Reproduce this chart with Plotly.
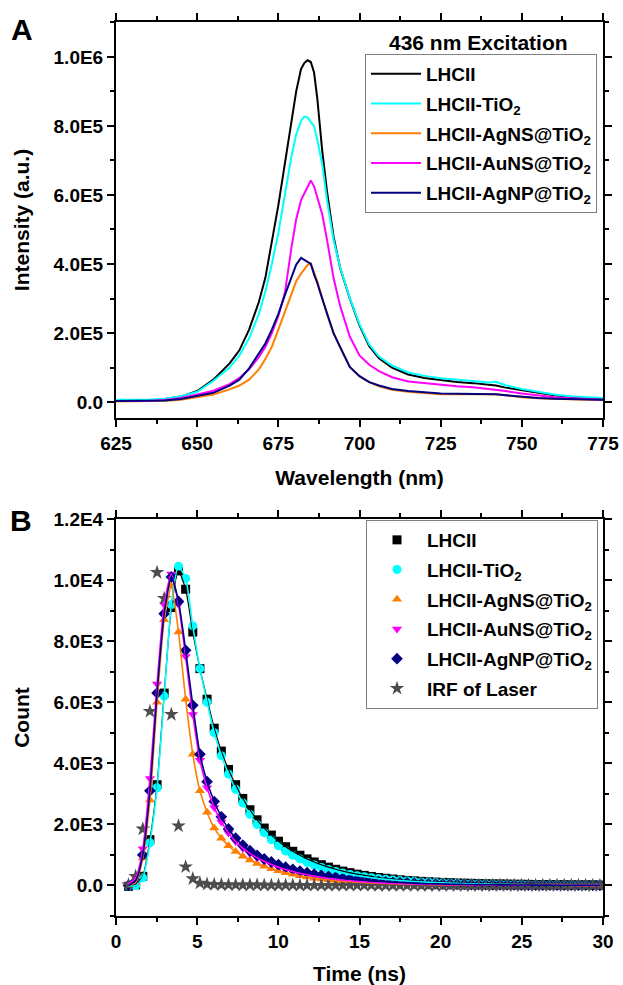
import plotly.graph_objects as go

# ---------------- Panel A: steady-state fluorescence spectra ----------------
WAVELENGTH = [625, 630, 635, 640, 645, 650, 655, 660,
              663, 666, 669, 671, 673, 675, 677, 679,
              680.5, 682, 683, 684, 685, 686, 687, 688.5,
              690, 692, 694, 697, 700, 703, 706, 710,
              715, 720, 725, 730, 735, 740, 742, 745,
              750, 755, 760, 765, 770, 775]

SPEC_LHCII = [4000, 4000, 5000, 9000, 16000, 32000, 65000, 112000,
              150000, 210000, 290000, 360000, 460000, 570000, 690000, 810000,
              900000, 965000, 982000, 990000, 985000, 955000, 880000, 730000,
              610000, 480000, 390000, 300000, 222000, 162000, 127000, 100000,
              80000, 70000, 63000, 58000, 55000, 50000, 48000, 42000,
              34000, 26000, 20000, 15000, 12000, 10000]

SPEC_TIO2 = [7000, 6000, 7000, 10000, 17000, 30000, 62000, 100000,
             135000, 185000, 255000, 320000, 400000, 490000, 600000, 710000,
             775000, 815000, 827000, 825000, 812000, 800000, 760000, 690000,
             585000, 470000, 392000, 302000, 226000, 167000, 132000, 106000,
             86000, 76000, 69000, 65000, 61000, 57000, 59000, 49000,
             38000, 29000, 22000, 17000, 14000, 12000]

SPEC_AGNS = [2000, 2000, 2000, 4000, 7000, 14000, 22000, 37000,
             48000, 65000, 95000, 125000, 160000, 210000, 260000, 310000,
             350000, 372000, 385000, 397000, 402000, 375000, 350000, 302000,
             255000, 200000, 160000, 102000, 75000, 58000, 46000, 36000,
             30000, 26000, 23000, 23000, 23000, 24000, 23000, 20000,
             14000, 11000, 9000, 8000, 7000, 6000]

SPEC_AUNS = [3000, 3000, 3000, 6000, 12000, 22000, 33000, 52000,
             70000, 95000, 130000, 160000, 200000, 250000, 315000, 445000,
             530000, 585000, 605000, 625000, 642000, 625000, 590000, 545000,
             470000, 360000, 280000, 190000, 135000, 108000, 90000, 72000,
             60000, 55000, 50000, 46000, 43000, 38000, 36000, 32000,
             25000, 19000, 14000, 11000, 9000, 7000]

SPEC_AGNP = [3000, 3000, 3000, 5000, 9000, 18000, 27000, 48000,
             65000, 98000, 140000, 170000, 210000, 255000, 310000, 360000,
             398000, 418000, 412000, 405000, 400000, 370000, 345000, 300000,
             255000, 200000, 160000, 102000, 75000, 58000, 48000, 38000,
             32000, 28000, 25000, 24000, 24000, 24000, 23000, 20000,
             15000, 12000, 10000, 9000, 8000, 7000]

# ---------------- Panel B: time-resolved decays ----------------
TIME_NS = [0.77, 1.21, 1.65, 2.09, 2.53, 2.97, 3.41, 3.85, 4.29, 4.73,
           5.17, 5.61, 6.05, 6.49, 6.93, 7.37, 7.81, 8.25, 8.69, 9.13,
           9.57, 10.01, 10.45, 10.89, 11.33, 11.77, 12.21, 12.65, 13.09, 13.53,
           13.97, 14.41, 14.85, 15.29, 15.73, 16.17, 16.61, 17.05, 17.49, 17.93,
           18.37, 18.81, 19.25, 19.69, 20.13, 20.57, 21.01, 21.45, 21.89, 22.33,
           22.77, 23.21, 23.65, 24.09, 24.53, 24.97, 25.41, 25.85, 26.29, 26.73,
           27.17, 27.61, 28.05, 28.49, 28.93, 29.37, 29.81]

DECAY_LHCII = [-30, 20, 300, 1500, 3300, 6300, 9100, 10300, 9700, 8300,
               7100, 6100, 5150, 4400, 3800, 3300, 2850, 2480, 2150, 1880,
               1650, 1450, 1270, 1120, 990, 870, 770, 680, 600, 530,
               470, 420, 370, 330, 295, 260, 235, 210, 185, 165,
               150, 135, 120, 110, 100, 90, 80, 75, 70, 60,
               55, 50, 50, 45, 40, 40, 35, 30, 30, 30,
               25, 25, 20, 20, 20, 20, 15]

DECAY_TIO2 = [-20, 0, 250, 1400, 3200, 6200, 9200, 10450, 10050, 8500,
              7100, 6000, 5000, 4250, 3650, 3150, 2700, 2330, 2000, 1730,
              1500, 1300, 1130, 990, 870, 760, 670, 590, 520, 460,
              410, 360, 320, 285, 255, 225, 200, 180, 160, 145,
              130, 115, 105, 95, 85, 75, 70, 60, 55, 50,
              45, 40, 40, 35, 30, 30, 25, 25, 20, 20,
              20, 15, 15, 15, 10, 10, 10]

DECAY_AGNS = [0, 100, 900, 2800, 6000, 8700, 9800, 8300, 6100, 4300,
              3100, 2400, 1880, 1550, 1300, 1110, 960, 830, 720, 630,
              550, 480, 420, 370, 320, 280, 240, 210, 185, 160,
              140, 125, 110, 95, 85, 75, 65, 58, 50, 45,
              40, 35, 30, 28, 25, 22, 20, 18, 15, 15,
              12, 10, 10, 10, 8, 8, 5, 5, 5, 5,
              5, 5, 0, 0, 0, 0, 0]

DECAY_AUNS = [50, 250, 1200, 3500, 6600, 9200, 10200, 9200, 7500, 5600,
              4100, 3200, 2550, 2080, 1720, 1440, 1220, 1050, 910, 790,
              690, 600, 525, 460, 400, 350, 305, 265, 230, 200,
              175, 155, 135, 120, 105, 92, 80, 70, 62, 55,
              48, 42, 38, 33, 30, 27, 24, 21, 19, 17,
              15, 13, 12, 11, 10, 9, 8, 7, 6, 6,
              5, 5, 5, 4, 4, 4, 3]

DECAY_AGNP = [0, 150, 1000, 3100, 6300, 8900, 10100, 9300, 7700, 5900,
              4300, 3400, 2750, 2250, 1850, 1550, 1320, 1140, 990, 870,
              770, 680, 600, 530, 470, 420, 375, 335, 300, 270,
              240, 215, 190, 170, 150, 135, 120, 105, 95, 85,
              75, 65, 58, 52, 46, 41, 37, 33, 30, 27,
              24, 22, 20, 18, 16, 14, 13, 12, 11, 10,
              9, 8, 8, 7, 7, 6, 6]

IRF = [20, 300, 1850, 5700, 10250, 9400, 5600, 1950, 610, 220,
       80, 40, 30, 25, 20, 20, 15, 15, 15, 10,
       10, 10, 10, 10, 5, 5, 5, 5, 5, 5,
       5, 5, 5, 5, 5, 0, 0, 0, 0, 0,
       0, 0, 0, 0, 0, 0, 0, 0, 0, 0,
       0, 0, 0, 0, 0, 0, 0, 0, 0, 0,
       0, 0, 0, 0, 0, 0, 0]

# ---------------- names, colours, ticks ----------------
NAMES = ["LHCII", "LHCII-TiO<sub>2</sub>", "LHCII-AgNS@TiO<sub>2</sub>",
         "LHCII-AuNS@TiO<sub>2</sub>", "LHCII-AgNP@TiO<sub>2</sub>"]
COLORS = ["#000000", "#00FFFF", "#FF7F00", "#FF00FF", "#000080"]
SYMBOLS = ["square", "circle", "triangle-up", "triangle-down", "diamond"]
IRF_NAME = "IRF of Laser"
IRF_COLOR = "#4D4D4D"

WL_TICKS = [625, 650, 675, 700, 725, 750, 775]
INT_TICKS = [0, 200000, 400000, 600000, 800000, 1000000]
INT_LABELS = ["0.0", "2.0E5", "4.0E5", "6.0E5", "8.0E5", "1.0E6"]
T_TICKS = [0, 5, 10, 15, 20, 25, 30]
CNT_TICKS = [0, 2000, 4000, 6000, 8000, 10000, 12000]
CNT_LABELS = ["0.0", "2.0E3", "4.0E3", "6.0E3", "8.0E3", "1.0E4", "1.2E4"]

FONT = "Liberation Sans"
W, H = 623, 985

fig = go.Figure()

spectra = [SPEC_LHCII, SPEC_TIO2, SPEC_AGNS, SPEC_AUNS, SPEC_AGNP]
for i, (name, col, ys) in enumerate(zip(NAMES, COLORS, spectra)):
    fig.add_trace(go.Scatter(x=WAVELENGTH, y=ys, mode="lines", name=name,
                             line=dict(color=col, width=2), legendgroup=f"a{i}",
                             xaxis="x", yaxis="y", legend="legend"))

decays = [DECAY_LHCII, DECAY_TIO2, DECAY_AGNS, DECAY_AUNS, DECAY_AGNP]
for i, (name, col, sym, ys) in enumerate(zip(NAMES, COLORS, SYMBOLS, decays)):
    fig.add_trace(go.Scatter(x=TIME_NS, y=ys, mode="markers", name=name,
                             marker=dict(color=col, symbol=sym, size=9), legendgroup=f"b{i}",
                             xaxis="x2", yaxis="y2", legend="legend2"))
fig.add_trace(go.Scatter(x=TIME_NS, y=IRF, mode="markers", name=IRF_NAME,
                         marker=dict(color=IRF_COLOR, symbol="star", size=11), legendgroup="b5",
                         xaxis="x2", yaxis="y2", legend="legend2"))
# fitted curves
for name, col, ys in zip(NAMES, COLORS, decays):
    fig.add_trace(go.Scatter(x=TIME_NS, y=ys, mode="lines", showlegend=False,
                             line=dict(color=col, width=1.6 if col != "#000000" else 1.2,
                                       shape="spline", smoothing=0.6),
                             xaxis="x2", yaxis="y2", hoverinfo="skip"))

axis_common = dict(showline=True, linewidth=2, linecolor="black", mirror="ticks",
                   ticks="outside", ticklen=7, tickwidth=2, tickcolor="black",
                   showgrid=False, zeroline=False, automargin=False,
                   tickfont=dict(family=FONT, size=19, color="black", weight="bold"))
title_font = dict(family=FONT, size=21, color="black", weight="bold")

X0, X1 = 116 / W, 603 / W
YA = [1 - 418 / H, 1 - 22 / H]
YB = [1 - 916 / H, 1 - 519 / H]

legend_common = dict(xanchor="right", yanchor="top",
                     bordercolor="#808080", borderwidth=1, bgcolor="white",
                     font=dict(family=FONT, size=19, color="black", weight="bold"),
                     itemwidth=50, tracegroupgap=2)

fig.update_layout(
    width=W, height=H, margin=dict(l=0, r=0, t=0, b=0),
    paper_bgcolor="white", plot_bgcolor="white",
    font=dict(family=FONT, size=19, color="black", weight="bold"),
    xaxis=dict(domain=[X0, X1], anchor="y", range=[625, 775],
               tickmode="array", tickvals=WL_TICKS, ticktext=[str(v) for v in WL_TICKS],
               minor=dict(ticks="outside", ticklen=4, tickwidth=2, tickcolor="black",
                          tick0=637.5, dtick=25),
               title=dict(text="Wavelength (nm)", font=title_font, standoff=18),
               **axis_common),
    yaxis=dict(domain=YA, anchor="x", range=[-46000, 1101000],
               tickmode="array", tickvals=INT_TICKS, ticktext=INT_LABELS,
               minor=dict(ticks="outside", ticklen=4, tickwidth=2, tickcolor="black",
                          tick0=100000, dtick=200000),
               title=dict(text="Intensity (a.u.)", font=title_font, standoff=18),
               **axis_common),
    xaxis2=dict(domain=[X0, X1], anchor="y2", range=[0, 30],
                tickmode="array", tickvals=T_TICKS, ticktext=[str(v) for v in T_TICKS],
                minor=dict(ticks="outside", ticklen=4, tickwidth=2, tickcolor="black",
                           tick0=2.5, dtick=5),
                title=dict(text="Time (ns)", font=title_font, standoff=18),
                **axis_common),
    yaxis2=dict(domain=YB, anchor="x2", range=[-1000, 12000],
                tickmode="array", tickvals=CNT_TICKS, ticktext=CNT_LABELS,
                minor=dict(ticks="outside", ticklen=4, tickwidth=2, tickcolor="black",
                           tick0=1000, dtick=2000),
                title=dict(text="Count", font=title_font, standoff=18),
                **axis_common),
    legend=dict(x=597 / W, y=1 - 54 / H, **legend_common),
    legend2=dict(x=598 / W, y=1 - 520 / H, **legend_common),
    annotations=[
        dict(text="A", x=22 / W, y=1 - 29 / H, xref="paper", yref="paper",
             xanchor="center", yanchor="middle", showarrow=False,
             font=dict(family=FONT, size=30, color="black", weight="bold")),
        dict(text="B", x=21 / W, y=1 - 520 / H, xref="paper", yref="paper",
             xanchor="center", yanchor="middle", showarrow=False,
             font=dict(family=FONT, size=30, color="black", weight="bold")),
        dict(text="436 nm Excitation", x=478 / W, y=1 - 42 / H, xref="paper", yref="paper",
             xanchor="center", yanchor="middle", showarrow=False,
             font=dict(family=FONT, size=21, color="black", weight="bold")),
    ],
)

fig.write_html("out.html")
